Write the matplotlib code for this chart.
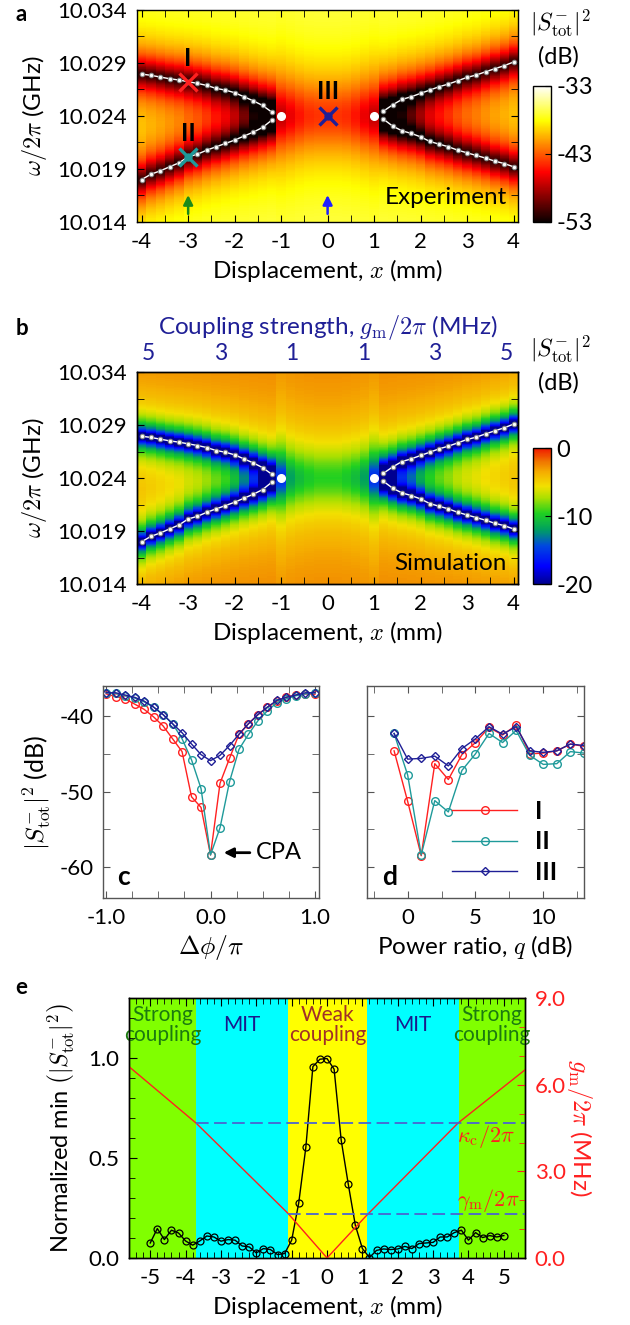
import numpy as np
import matplotlib
matplotlib.use('Agg')
import matplotlib.pyplot as plt
from matplotlib.colors import LinearSegmentedColormap
from matplotlib.ticker import MultipleLocator, FormatStrFormatter

plt.rcParams['font.family'] = ['Lato', 'DejaVu Sans']
plt.rcParams['mathtext.fontset'] = 'cm'
plt.rcParams['axes.unicode_minus'] = False
plt.rcParams['font.size'] = 16
plt.rcParams['axes.labelsize'] = 17.5
plt.rcParams['axes.linewidth'] = 1.0
plt.rcParams['xtick.major.pad'] = 7
plt.rcParams['ytick.major.pad'] = 7

# ---------------- panels a, b : columns of the maps and dip frequencies (GHz)
x_cols = np.round(np.arange(-4, 4.01, 0.2), 1)
upper_f = [10.02795, 10.02783, 10.02767, 10.02751, 10.02739, 10.02723, 10.02707,
           10.02688, 10.02660, 10.02644, 10.02619, 10.02581, 10.02543, 10.02499,
           10.02436,
           10.024, 10.024, 10.024, 10.024, 10.024, 10.024, 10.024, 10.024, 10.024,
           10.024, 10.024,
           10.02445, 10.02505, 10.02556, 10.02581, 10.02613, 10.02644, 10.02676,
           10.02701, 10.02732, 10.02764, 10.02786, 10.02817, 10.02846, 10.02874,
           10.02909]
lower_f = [10.01800, 10.01850, 10.01882, 10.01920, 10.01957, 10.02014, 10.02039,
           10.02077, 10.02109, 10.02140, 10.02172, 10.02210, 10.02247, 10.02291,
           10.02361,
           10.024, 10.024, 10.024, 10.024, 10.024, 10.024, 10.024, 10.024, 10.024,
           10.024, 10.024,
           10.02370, 10.02304, 10.02260, 10.02235, 10.02203, 10.02159, 10.02134,
           10.02109, 10.02077, 10.02052, 10.02027, 10.02002, 10.01973, 10.01951,
           10.01920]
# dip depth (linear) and dip width (GHz) of each column, experiment and simulation
exp_depth = [0.97] * 15 + [0.74, 0.70, 0.66, 0.63, 0.62, 0.62, 0.62, 0.63, 0.66,
                           0.70, 0.74] + [0.97] * 15
exp_width = [0.004] * 15 + [0.005] * 11 + [0.004] * 15
sim_depth = [0.995] * 15 + [0.79, 0.68, 0.63, 0.6, 0.58, 0.58, 0.58, 0.6, 0.63,
                            0.68, 0.79] + [0.995] * 15
sim_width = [0.0029] * 15 + [0.004] * 11 + [0.0029] * 15
ep_x = [-1, 1]
ep_f = [10.024, 10.024]
f_ticks = [10.014, 10.019, 10.024, 10.029, 10.034]
gm_tick_pos = [-3.85, -2.31, -0.77, 0.77, 2.31, 3.84]
gm_tick_lab = ['5', '3', '1', '1', '3', '5']

# ---------------- panel c, d
phi = np.linspace(-1, 1, 23)
c_I = [-37.05, -37.4, -37.7, -38.4, -39.1, -40.1, -41.3, -43.0, -44.7, -50.7, -52.1,
       -58.4, -48.9, -45.6, -42.4, -41.0, -39.8, -38.8, -38.0, -37.5, -37.2, -37.05,
       -37.1]
c_II = [-36.9, -37.0, -37.3, -37.6, -38.1, -38.8, -39.8, -41.0, -43.0, -45.8, -49.6,
        -58.4, -54.8, -48.7, -44.4, -42.4, -40.6, -39.3, -38.2, -37.7, -37.3, -37.05,
        -36.9]
c_III = [-36.9, -36.9, -37.2, -37.5, -38.0, -38.8, -39.8, -41.0, -42.2, -43.7, -45.1,
         -45.9, -45.2, -43.9, -42.4, -41.0, -39.8, -38.8, -37.9, -37.5, -37.2, -36.9,
         -36.9]
q = np.arange(-1, 14)
d_I = [-44.6, -51.3, -58.5, -46.3, -48.4, -45.1, -43.5, -41.5, -42.5, -41.2, -45.0,
       -44.9, -44.6, -43.7, -44.0]
d_II = [-42.3, -47.8, -58.4, -51.2, -52.7, -47.2, -45.0, -42.3, -43.5, -41.9, -45.2,
        -46.4, -46.3, -44.7, -44.9]
d_III = [-42.3, -45.7, -45.6, -45.3, -46.6, -44.3, -43.0, -41.4, -42.4, -41.4, -44.6,
         -44.8, -44.6, -43.7, -43.9]

# ---------------- panel e
e_x = np.round(np.arange(-5, 5.01, 0.2), 1)
e_min = [0.075, 0.147, 0.092, 0.139, 0.125, 0.085, 0.064, 0.085, 0.110, 0.105,
         0.084, 0.092, 0.089, 0.060, 0.055, 0.025, 0.047, 0.042, 0.017, 0.022,
         0.089, 0.276, 0.553, 0.958, 0.995, 0.998, 0.945, 0.590, 0.370, 0.164,
         0.047, 0.002, 0.038, 0.045, 0.042, 0.045, 0.058, 0.047, 0.072, 0.075,
         0.078, 0.105, 0.105, 0.127, 0.139, 0.089, 0.127, 0.102, 0.112, 0.105,
         0.112]
g_x = [-5.6, -3.7, -1.1, 0.0, 1.1, 3.7, 5.6]
g_val = [6.63, 4.67, 1.54, 0.0, 1.45, 4.67, 6.52]
kappa_c = 4.67
gamma_m = 1.52
region_edges = [-5.6, -3.7, -1.1, 1.14, 3.72, 5.6]
region_colors = ['#80ff00', '#00ffff', '#ffff00', '#00ffff', '#80ff00']
region_names = ['Strong\ncoupling', 'MIT', 'Weak\ncoupling', 'MIT', 'Strong\ncoupling']
region_text_colors = ['#1c7a10', '#1a1a8c', '#a03028', '#1a1a8c', '#1c7a10']

RED = '#ff2020'
TEAL = '#1f9a9a'
NAVY = '#1f1f96'

freq = np.linspace(10.014, 10.034, 401)
sim_cmap = LinearSegmentedColormap.from_list('sim', [
    (0.0, '#000090'), (0.13, '#0000ff'), (0.28, '#0048e0'), (0.4, '#00a060'),
    (0.52, '#20d020'), (0.64, '#b0e000'), (0.72, '#f2e000'), (0.82, '#f5b000'),
    (0.9, '#f07800'), (1.0, '#f01800')])


def dip_map(depth, width, bg):
    F = freq[:, None]
    up = np.array(upper_f)[None, :]
    lo = np.array(lower_f)[None, :]
    d = np.array(depth)[None, :]
    w = np.array(width)[None, :]
    lin = (1 - d * w ** 2 / ((F - up) ** 2 + w ** 2)) * \
          (1 - d * w ** 2 / ((F - lo) ** 2 + w ** 2))
    return bg + 10 * np.log10(lin)


def style_map(ax):
    ax.set_xlim(-4.1, 4.1)
    ax.set_ylim(10.014, 10.034)
    ax.xaxis.set_major_locator(MultipleLocator(1))
    ax.xaxis.set_minor_locator(MultipleLocator(0.5))
    ax.set_yticks(f_ticks)
    ax.set_yticks([10.0165, 10.0215, 10.0265, 10.0315], minor=True)
    ax.yaxis.set_major_formatter(FormatStrFormatter('%.3f'))
    ax.tick_params(which='both', direction='in', top=True, right=True, length=5)
    ax.set_xlabel(r'Displacement, $x$ (mm)', labelpad=4)
    ax.set_ylabel(r'$\omega/2\pi$ (GHz)', labelpad=6)


def branch_lines(ax):
    mask = np.abs(x_cols) >= 1.15
    for side in (x_cols < 0, x_cols > 0):
        m = mask & side
        for fr in (upper_f, lower_f):
            ax.plot(x_cols[m], np.array(fr)[m], '-o', color='white', lw=1,
                    ms=3.2, mfc='white', mec='#8a8a8a', mew=0.8)
    ax.plot(ep_x, ep_f, 'o', color='white', ms=5.5, ls='none')


fig = plt.figure(figsize=(6.3, 13.25), dpi=100)

# ---------------- a
ax_a = fig.add_axes([0.2175, 0.8325, 0.605, 0.16])
im_a = ax_a.pcolormesh(x_cols, freq, dip_map(exp_depth, exp_width, -35.8),
                       shading='nearest', cmap='hot', vmin=-53, vmax=-33)
branch_lines(ax_a)
style_map(ax_a)
ax_a.plot([-3], [10.0272], 'x', color=RED, ms=13, mew=2.4)
ax_a.plot([-3], [10.0201], 'x', color=TEAL, ms=13, mew=2.4)
ax_a.plot([-3], [10.0201], 'o', color=TEAL, ms=5)
ax_a.plot([0], [10.024], 'x', color=NAVY, ms=13, mew=2.4)
ax_a.plot([0], [10.024], 'o', color=NAVY, ms=5)
ax_a.text(-3, 10.0294, 'I', ha='center', va='center', fontsize=18, fontweight='bold')
ax_a.text(-3, 10.0223, 'II', ha='center', va='center', fontsize=18, fontweight='bold')
ax_a.text(0, 10.0263, 'III', ha='center', va='center', fontsize=18, fontweight='bold')
ax_a.annotate('', xy=(-3, 10.0168), xytext=(-3, 10.0145),
              arrowprops=dict(arrowstyle='-|>', color='#1a8a1a', lw=1.8, mutation_scale=14))
ax_a.annotate('', xy=(0, 10.0168), xytext=(0, 10.0145),
              arrowprops=dict(arrowstyle='-|>', color='#2020ff', lw=1.8, mutation_scale=14))
ax_a.text(3.85, 10.0157, 'Experiment', ha='right', va='baseline', fontsize=17.5)

cax_a = fig.add_axes([0.846, 0.8325, 0.0286, 0.1026])
cb_a = fig.colorbar(im_a, cax=cax_a, ticks=[-33, -43, -53])
cb_a.ax.tick_params(direction='in', length=4, labelsize=17, pad=4)
cb_a.ax.set_yticklabels(['-33', '-43', '-53'])
fig.text(0.89, 0.982, r'$|S^{-}_{\rm tot}|^2$', ha='center', va='center', fontsize=17)
fig.text(0.887, 0.957, '(dB)', ha='center', va='center', fontsize=17)

# ---------------- b
ax_b = fig.add_axes([0.2175, 0.5592, 0.605, 0.16])
im_b = ax_b.pcolormesh(x_cols, freq, dip_map(sim_depth, sim_width, -2.0),
                       shading='nearest', cmap=sim_cmap, vmin=-20, vmax=0)
branch_lines(ax_b)
style_map(ax_b)
ax_b.text(3.85, 10.0153, 'Simulation', ha='right', va='baseline', fontsize=17.5)
ax_t = ax_b.twiny()
ax_t.set_xlim(ax_b.get_xlim())
ax_t.set_xticks(gm_tick_pos)
ax_t.set_xticklabels(gm_tick_lab)
ax_t.tick_params(axis='x', length=0, colors=NAVY, labelsize=16.5, pad=6)
ax_t.set_xlabel(r'Coupling strength, $g_{\rm m}/2\pi$ (MHz)', color=NAVY, labelpad=6)

cax_b = fig.add_axes([0.846, 0.5592, 0.0286, 0.1026])
cb_b = fig.colorbar(im_b, cax=cax_b, ticks=[0, -10, -20])
cb_b.ax.tick_params(direction='in', length=4, labelsize=17, pad=4)
cb_b.ax.set_yticklabels(['0', '-10', '-20'])
fig.text(0.89, 0.7365, r'$|S^{-}_{\rm tot}|^2$', ha='center', va='center', fontsize=17)
fig.text(0.887, 0.711, '(dB)', ha='center', va='center', fontsize=17)

# ---------------- c, d
ax_c = fig.add_axes([0.1635, 0.3223, 0.343, 0.16])
ax_d = fig.add_axes([0.5825, 0.3223, 0.3444, 0.16])
for ax, xv, ys in ((ax_c, phi, (c_I, c_II, c_III)), (ax_d, q, (d_I, d_II, d_III))):
    ax.plot(xv, ys[0], '-o', color=RED, lw=1, ms=5.5, mfc='none', mew=1, label='I')
    ax.plot(xv, ys[1], '-o', color=TEAL, lw=1, ms=5.5, mfc='none', mew=1, label='II')
    ax.plot(xv, ys[2], '-D', color=NAVY, lw=1, ms=4.5, mfc='none', mew=1, label='III')
    ax.set_ylim(-64.1, -36)
    ax.yaxis.set_major_locator(MultipleLocator(10))
    ax.yaxis.set_minor_locator(MultipleLocator(5))
    ax.tick_params(which='both', direction='in', top=True, right=True, length=5,
                   color='#555555')
    for s in ax.spines.values():
        s.set_color('#555555')

ax_c.set_xlim(-1.03, 1.04)
ax_c.xaxis.set_major_locator(MultipleLocator(1))
ax_c.xaxis.set_minor_locator(MultipleLocator(0.25))
ax_c.xaxis.set_major_formatter(FormatStrFormatter('%.1f'))
ax_c.set_xlabel(r'$\Delta\phi/\pi$', fontsize=18.5)
ax_c.set_ylabel(r'$|S^{-}_{\rm tot}|^2$ (dB)', fontsize=18)
ax_c.annotate('CPA', xy=(0.1, -58.1), xytext=(0.43, -58.1), va='center', fontsize=17,
              arrowprops=dict(arrowstyle='-|>', color='black', lw=2, mutation_scale=14))
ax_c.text(0.065, 0.06, 'c', transform=ax_c.transAxes, fontsize=19, fontweight='bold')

ax_d.set_xlim(-3, 13)
ax_d.xaxis.set_major_locator(MultipleLocator(5))
ax_d.xaxis.set_minor_locator(MultipleLocator(2.5))
ax_d.tick_params(labelleft=False)
ax_d.set_xlabel(r'Power ratio, $q$ (dB)')
ax_d.text(0.07, 0.06, 'd', transform=ax_d.transAxes, fontsize=19, fontweight='bold')
leg = ax_d.legend(loc='lower right', frameon=False, handlelength=2.6,
                  prop={'weight': 'bold', 'size': 18}, labelspacing=0.3,
                  bbox_to_anchor=(0.98, -0.04), handletextpad=0.7)

# ---------------- e
ax_e = fig.add_axes([0.2048, 0.0506, 0.6286, 0.196])
for i in range(len(region_colors)):
    lo_, hi_ = region_edges[i], region_edges[i + 1]
    ax_e.axvspan(lo_, hi_, color=region_colors[i], lw=0, zorder=0)
    ax_e.text((lo_ + hi_) / 2, 1.165, region_names[i], ha='center', va='center',
              color=region_text_colors[i], fontsize=15, linespacing=1.0)
ax_e.plot(e_x, e_min, '-o', color='black', lw=1, ms=5, mfc='none', mew=0.9, zorder=5)
ax_e.set_xlim(-5.6, 5.6)
ax_e.set_ylim(0, 1.3)
ax_e.xaxis.set_major_locator(MultipleLocator(1))
ax_e.xaxis.set_minor_locator(MultipleLocator(0.2))
ax_e.yaxis.set_major_locator(MultipleLocator(0.5))
ax_e.yaxis.set_minor_locator(MultipleLocator(0.1))
ax_e.yaxis.set_major_formatter(FormatStrFormatter('%.1f'))
ax_e.tick_params(which='both', direction='in', top=True)
ax_e.tick_params(which='major', length=6)
ax_e.tick_params(which='minor', length=4)
ax_e.set_xlabel(r'Displacement, $x$ (mm)')
ax_e.set_ylabel(r'Normalized min $\left(|S^{-}_{\rm tot}|^2\right)$', labelpad=8,
                fontsize=17)

ax_g = ax_e.twinx()
ax_g.plot(g_x, g_val, '-', color=RED, lw=1)
ax_g.plot([-3.7, 5.6], [kappa_c, kappa_c], '--', color='#4a66d0', lw=1.3, dashes=(7, 3))
ax_g.plot([-1.1, 5.6], [gamma_m, gamma_m], '--', color='#4a66d0', lw=1.3, dashes=(7, 3))
ax_g.text(4.5, kappa_c - 0.45, r'$\kappa_{\rm c}/2\pi$', color=RED, ha='center',
          va='center', fontsize=16)
ax_g.text(4.55, gamma_m + 0.48, r'$\gamma_{\rm m}/2\pi$', color=RED, ha='center',
          va='center', fontsize=16)
ax_g.set_ylim(0, 9)
ax_g.yaxis.set_major_locator(MultipleLocator(3))
ax_g.yaxis.set_minor_locator(MultipleLocator(1))
ax_g.yaxis.set_major_formatter(FormatStrFormatter('%.1f'))
ax_g.tick_params(which='both', direction='in', colors=RED)
ax_g.tick_params(which='major', length=6)
ax_g.tick_params(which='minor', length=4)
ax_g.set_ylabel(r'$g_{\rm m}/2\pi$ (MHz)', color=RED, rotation=270, labelpad=20,
                fontsize=17.5)

fig.text(0.025, 0.997, 'a', fontsize=16, fontweight='bold', va='top')
fig.text(0.025, 0.760, 'b', fontsize=16, fontweight='bold', va='top')
fig.text(0.025, 0.263, 'e', fontsize=16, fontweight='bold', va='top')

fig.savefig('out.png', dpi=100)
